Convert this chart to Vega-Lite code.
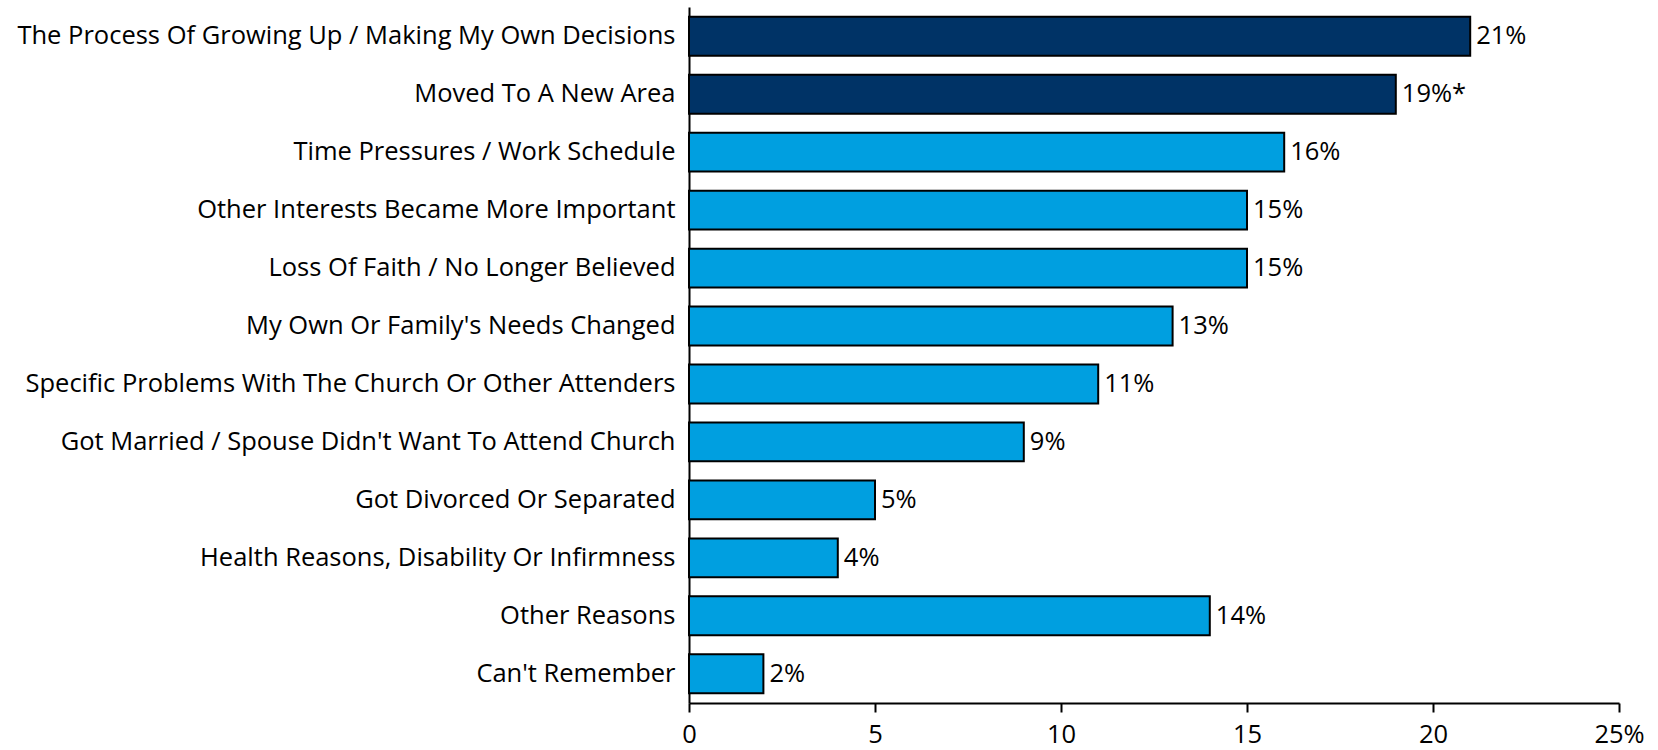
{
  "$schema": "https://vega.github.io/schema/vega-lite/v6.json",
  "autosize": "none",
  "width": 930,
  "height": 696,
  "padding": {"left": 689, "top": 7, "right": 39, "bottom": 47},
  "background": "white",
  "config": {"view": {"stroke": null}, "font": "Open Sans"},
  "data": {
    "values": [
      {"reason": "The Process Of Growing Up / Making My Own Decisions", "pct": 21, "label": "21%", "group": "top"},
      {"reason": "Moved To A New Area", "pct": 19, "label": "19%*", "group": "top"},
      {"reason": "Time Pressures / Work Schedule", "pct": 16, "label": "16%", "group": "other"},
      {"reason": "Other Interests Became More Important", "pct": 15, "label": "15%", "group": "other"},
      {"reason": "Loss Of Faith / No Longer Believed", "pct": 15, "label": "15%", "group": "other"},
      {"reason": "My Own Or Family's Needs Changed", "pct": 13, "label": "13%", "group": "other"},
      {"reason": "Specific Problems With The Church Or Other Attenders", "pct": 11, "label": "11%", "group": "other"},
      {"reason": "Got Married / Spouse Didn't Want To Attend Church", "pct": 9, "label": "9%", "group": "other"},
      {"reason": "Got Divorced Or Separated", "pct": 5, "label": "5%", "group": "other"},
      {"reason": "Health Reasons, Disability Or Infirmness", "pct": 4, "label": "4%", "group": "other"},
      {"reason": "Other Reasons", "pct": 14, "label": "14%", "group": "other"},
      {"reason": "Can't Remember", "pct": 2, "label": "2%", "group": "other"}
    ]
  },
  "encoding": {
    "y": {
      "field": "reason", "type": "nominal", "sort": null, "title": null,
      "scale": {"paddingInner": 0.33, "paddingOuter": 0.17},
      "axis": {"domain": true, "domainColor": "black", "domainWidth": 2, "ticks": false, "labelFontSize": 25.5, "labelColor": "black", "labelPadding": 14, "labelLimit": 1000, "labelFont": "Open Sans"}
    },
    "x": {
      "field": "pct", "type": "quantitative", "title": null,
      "scale": {"domain": [0, 25]},
      "axis": {"values": [0, 5, 10, 15, 20, 25], "grid": false, "domainColor": "black", "domainWidth": 2, "tickColor": "black", "tickWidth": 2, "tickSize": 9, "labelFontSize": 25.5, "labelColor": "black", "labelPadding": 10, "labelExpr": "datum.value == 25 ? '25%' : datum.label", "labelFlush": false}
    }
  },
  "layer": [
    {
      "mark": {"type": "bar", "stroke": "black", "strokeWidth": 2},
      "encoding": {
        "color": {"field": "group", "type": "nominal", "legend": null, "scale": {"domain": ["top", "other"], "range": ["#003366", "#009FE0"]}}
      }
    },
    {
      "mark": {"type": "text", "align": "left", "dx": 6, "fontSize": 25.5, "color": "black", "font": "Open Sans"},
      "encoding": {"text": {"field": "label"}}
    }
  ]
}
